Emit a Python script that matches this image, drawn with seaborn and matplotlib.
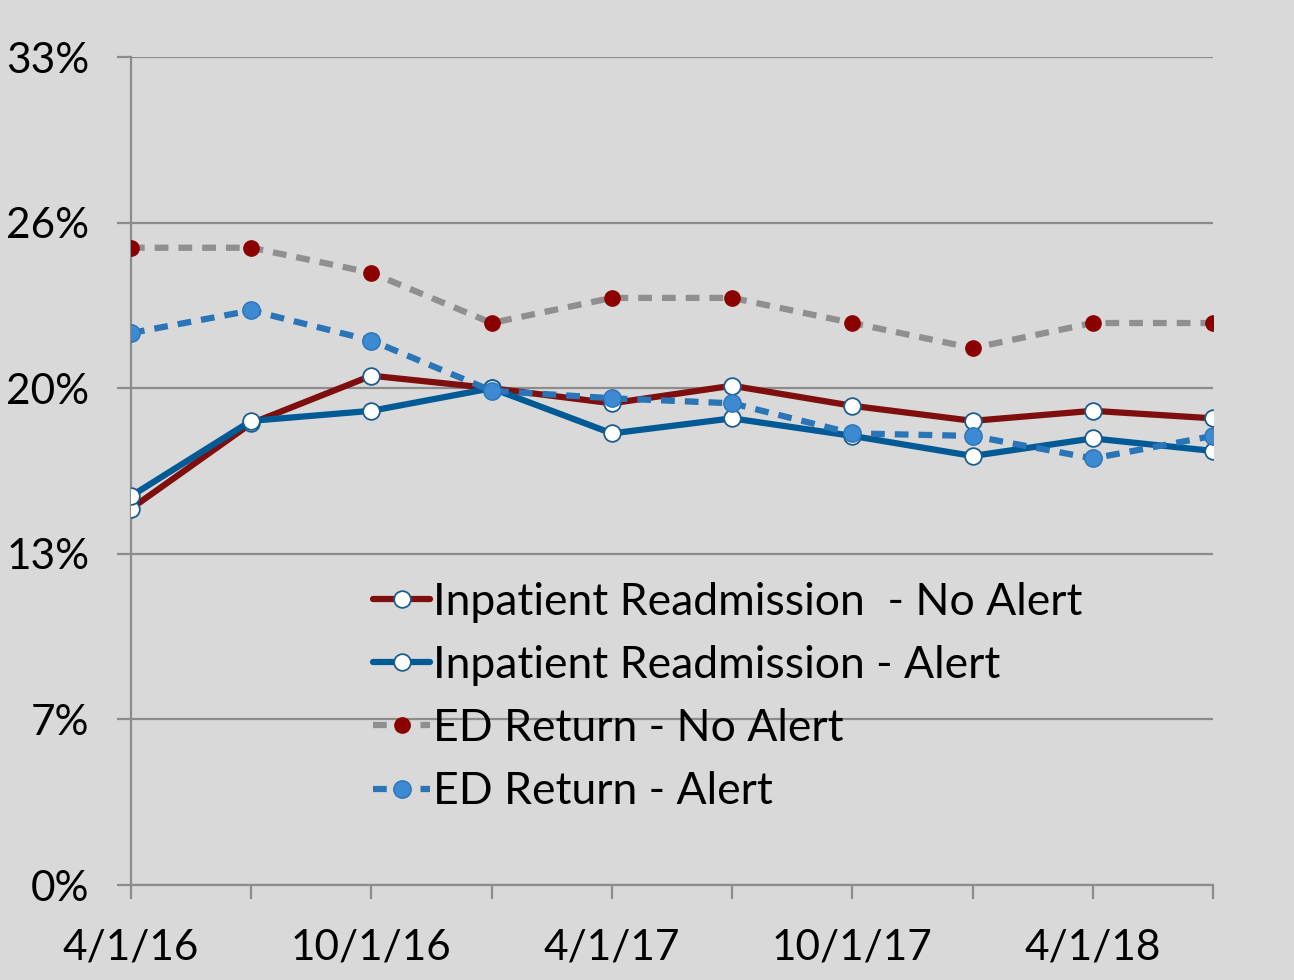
import matplotlib
matplotlib.use("Agg")
import matplotlib.pyplot as plt
import seaborn as sns
import pandas as pd
import numpy as np

dates = ["4/1/16", "7/1/16", "10/1/16", "1/1/17", "4/1/17", "7/1/17",
         "10/1/17", "1/1/18", "4/1/18", "7/1/18"]
inpatient_no_alert = [15.0, 18.4, 20.3, 19.8, 19.2, 19.9, 19.1, 18.5, 18.9, 18.6]
inpatient_alert = [15.5, 18.5, 18.9, 19.8, 18.0, 18.6, 17.9, 17.1, 17.8, 17.3]
ed_no_alert = [25.4, 25.4, 24.4, 22.4, 23.4, 23.4, 22.4, 21.4, 22.4, 22.4]
ed_alert = [22.0, 22.9, 21.7, 19.7, 19.4, 19.2, 18.0, 17.9, 17.0, 17.9]
series_names = ["Inpatient Readmission  - No Alert", "Inpatient Readmission - Alert",
                "ED Return - No Alert", "ED Return - Alert"]
y_ticks = [0, 6.6, 13.2, 19.8, 26.4, 33.0]
y_labels = ["0%", "7%", "13%", "20%", "26%", "33%"]

sns.set_theme(style="white")
plt.rcParams['font.family'] = ['Lato', 'DejaVu Sans']
plt.rcParams['text.color'] = 'black'

bg = "#D9D9D9"
fig = plt.figure(figsize=(12.94, 9.8), dpi=100, facecolor=bg)
ax = fig.add_axes([0.1012, 0.0969, 0.8362, 0.8449])
ax.set_facecolor(bg)

x = np.arange(len(dates))
df = pd.DataFrame({"x": x, series_names[0]: inpatient_no_alert,
                   series_names[1]: inpatient_alert,
                   series_names[2]: ed_no_alert, series_names[3]: ed_alert})

styles = [
    dict(color="#7F0E0E", linestyle="-", marker="o", markerfacecolor="white",
         markeredgecolor="#1C5D8E", markersize=12, markeredgewidth=1.3),
    dict(color="#005A96", linestyle="-", marker="o", markerfacecolor="white",
         markeredgecolor="#1C5D8E", markersize=12, markeredgewidth=1.3),
    dict(color="#8F8F8F", linestyle=(0, (2.2, 1.6)), marker="o", markerfacecolor="#8B0000",
         markeredgecolor="#8B0000", markersize=11, markeredgewidth=1),
    dict(color="#2A74B8", linestyle=(0, (2.2, 1.6)), marker="o", markerfacecolor="#3E8AD2",
         markeredgecolor="#2A74B8", markersize=12.5, markeredgewidth=1),
]
order = [2, 3, 0, 1]
for i in order:
    s = styles[i]
    sns.lineplot(data=df, x="x", y=series_names[i], ax=ax, label=series_names[i],
                 linewidth=4.5, zorder=3 + i, **s)

ax.set_xlim(0, 9)
ax.set_ylim(0, 33)
ax.set_yticks(y_ticks)
ax.set_yticklabels(y_labels)
ax.set_xticks(x)
ax.set_xticklabels([d if i % 2 == 0 else "" for i, d in enumerate(dates)])
ax.set_xlabel("")
ax.set_ylabel("")

ax.grid(axis="y", color="#8C8C8C", linewidth=1.6, zorder=1)
ax.grid(axis="x", visible=False)
ax.set_axisbelow(True)
for side in ["top", "right"]:
    ax.spines[side].set_visible(False)
for side in ["left", "bottom"]:
    ax.spines[side].set_color("#8C8C8C")
    ax.spines[side].set_linewidth(1.6)

ax.tick_params(axis="y", which="major", length=10, width=1.6, color="#8C8C8C",
               direction="out", labelsize=30.5, pad=20, labelcolor="black", left=True)
ax.tick_params(axis="x", which="major", length=10, width=1.6, color="#8C8C8C",
               direction="out", labelsize=30.5, pad=21, labelcolor="black", bottom=True)

handles, labels = ax.get_legend_handles_labels()
hmap = dict(zip(labels, handles))
leg = ax.legend([hmap[n] for n in series_names], series_names, loc="upper left",
                bbox_to_anchor=(0.207, 0.388), frameon=False, fontsize=32,
                handlelength=1.3, handletextpad=0.05, labelspacing=0.5,
                borderaxespad=0, labelcolor="black")

fig.savefig("out.png", dpi=100, facecolor=bg)
